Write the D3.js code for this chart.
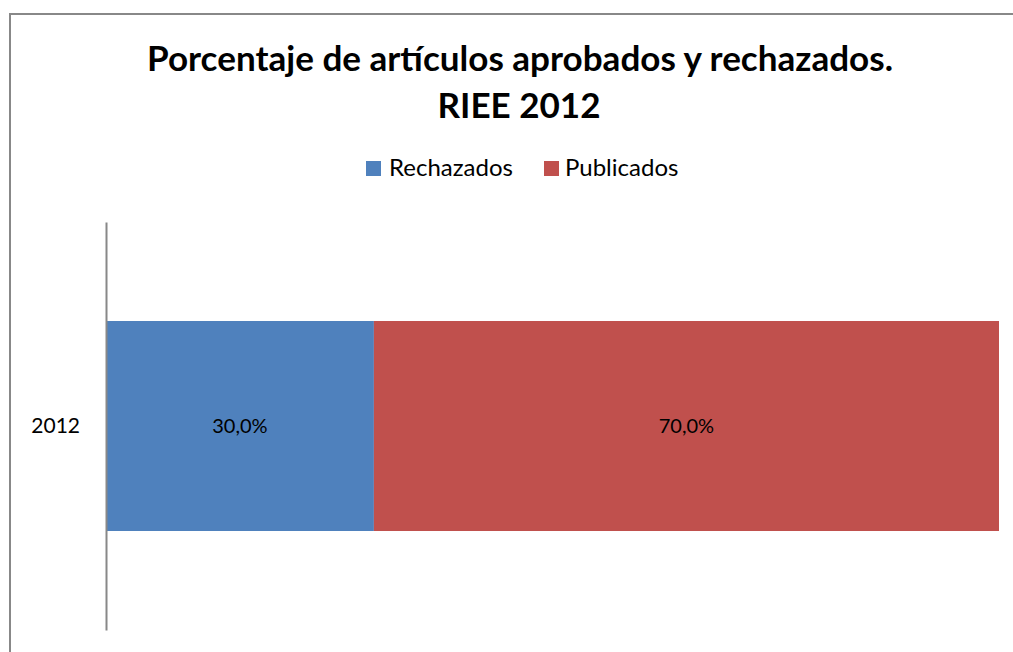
<!DOCTYPE html>
<html><head><meta charset="utf-8">
<script src="https://cdn.jsdelivr.net/npm/d3@7"></script>
<style>html,body{margin:0;padding:0;background:#fff;overflow:hidden}</style>
</head><body>
<svg id="c" width="1013" height="652"></svg>
<script>
const categories = ["2012"];
const seriesNames = ["Rechazados", "Publicados"];
const rechazados = [30.0];
const publicados = [70.0];
const colors = ["#4F81BD", "#C0504D"];
const titleLines = ["Porcentaje de artículos aprobados y rechazados.", "RIEE 2012"];

const font = "Lato, 'Open Sans', sans-serif";
const svg = d3.select("#c");

svg.append("rect").attr("x", 10).attr("y", 14).attr("width", 1030).attr("height", 660)
  .attr("fill", "#fff").attr("stroke", "#888").attr("stroke-width", 2);

function fitText(sel, target) {
  const w = sel.node().getComputedTextLength();
  const f = +sel.attr("font-size");
  return f * target / w;
}

// title, fit to width
const t1 = svg.append("text").attr("x", 520).attr("y", 71).attr("text-anchor", "middle")
  .attr("font-family", font).attr("font-weight", "bold").attr("font-size", 30).attr("fill", "#000")
  .text(titleLines[0]);
const fs = fitText(t1, 746);
t1.attr("font-size", fs);
svg.append("text").attr("x", 519).attr("y", 118).attr("text-anchor", "middle")
  .attr("font-family", font).attr("font-weight", "bold").attr("font-size", fs).attr("fill", "#000")
  .text(titleLines[1]);

const x = d3.scaleLinear().domain([0, 100]).range([106, 999]);
const y = d3.scaleBand().domain(categories).range([222, 630]).paddingInner(0).paddingOuter(0.4714);

const rows = categories.map((c, i) => ({cat: c, vals: [rechazados[i], publicados[i]]}));
const stacked = [];
rows.forEach(r => {
  let acc = 0;
  r.vals.forEach((v, j) => { stacked.push({cat: r.cat, j, x0: acc, x1: acc + v, v}); acc += v; });
});

svg.selectAll("rect.bar").data(stacked).enter().append("rect").attr("class", "bar")
  .attr("x", d => x(d.x0)).attr("width", d => x(d.x1) - x(d.x0))
  .attr("y", d => y(d.cat)).attr("height", y.bandwidth())
  .attr("fill", d => colors[d.j]);

svg.selectAll("text.val").data(stacked).enter().append("text").attr("class", "val")
  .attr("x", d => (x(d.x0) + x(d.x1)) / 2).attr("y", d => y(d.cat) + y.bandwidth() / 2)
  .attr("dy", "0.35em").attr("text-anchor", "middle")
  .attr("font-family", font).attr("font-size", 20).attr("fill", "#000")
  .text(d => d.v.toFixed(1).replace(".", ",") + "%");

// axis
const yAxis = d3.axisLeft(y).tickSize(0).tickPadding(26);
const ga = svg.append("g").attr("transform", "translate(106,0)").call(yAxis);
ga.select(".domain").attr("stroke", "#888").attr("stroke-width", 2);
ga.selectAll("text").attr("font-family", font).attr("font-size", 21).attr("fill", "#000");

// legend
const legend = [{x: 366, tx: 389}, {x: 544, tx: 565}];
seriesNames.forEach((n, i) => {
  svg.append("rect").attr("x", legend[i].x).attr("y", 161).attr("width", 15).attr("height", 15).attr("fill", colors[i]);
  svg.append("text").attr("x", legend[i].tx).attr("y", 168).attr("dy", "0.35em")
    .attr("font-family", font).attr("font-size", 24).attr("fill", "#000").text(n);
});
</script>
</body></html>
